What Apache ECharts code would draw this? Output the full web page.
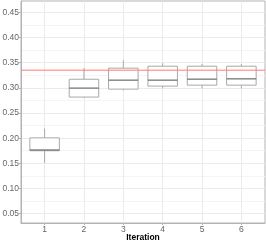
<!DOCTYPE html>
<html><head><meta charset="utf-8">
<script src="https://cdn.jsdelivr.net/npm/echarts@6/dist/echarts.min.js"></script>
<style>html,body{margin:0;padding:0;background:#fff}#c{width:266px;height:245px}</style>
</head><body><div id="c"></div>
<script>
const iterations = [1, 2, 3, 4, 5, 6];
const whiskerLow  = [0.151, 0.280, 0.295, 0.299, 0.299, 0.299];
const q1          = [0.1750, 0.2816, 0.2974, 0.3034, 0.3053, 0.3053];
const median      = [0.1765, 0.2994, 0.3152, 0.3152, 0.3172, 0.3178];
const q3          = [0.2006, 0.3170, 0.3390, 0.3429, 0.3429, 0.3429];
const whiskerHigh = [0.219, 0.339, 0.3547, 0.3488, 0.3474, 0.3474];
const refLine = 0.335;
const yTicks = [0.05, 0.10, 0.15, 0.20, 0.25, 0.30, 0.35, 0.40, 0.45];
const yMinor = [0.075, 0.125, 0.175, 0.225, 0.275, 0.325, 0.375, 0.425];
const xAxisTitle = 'Iteration';

const boxData = iterations.map((it, i) => [it, whiskerLow[i], q1[i], median[i], q3[i], whiskerHigh[i]]);

const font = "'Liberation Sans Narrow','Liberation Sans',Arial,sans-serif";
const boxColor = '#a8a8a8';
const medColor = '#6a6a6a';
const refColor = '#ff7a7a';
const xMin = 0.4, xMax = 6.6;
const yMin = 0.0315, yMax = 0.4724;

const chart = echarts.init(document.getElementById('c'), null, {renderer: 'canvas'});
chart.setOption({
  animation: false,
  backgroundColor: '#fff',
  grid: {left: 21, right: 1, top: 1, bottom: 22, show: true, borderColor: '#b3b3b3', borderWidth: 1,
         backgroundColor: 'transparent', containLabel: false, outerBoundsMode: 'none'},
  xAxis: {
    type: 'value', min: xMin, max: xMax,
    name: xAxisTitle, nameLocation: 'middle', nameGap: 10, nameMoveOverlap: false,
    nameTextStyle: {fontFamily: font, fontWeight: 'bold', fontSize: 8.5, color: '#000'},
    axisLine: {show: true, onZero: false, lineStyle: {color: '#b3b3b3', width: 1}},
    axisTick: {show: true, length: 2, customValues: iterations, lineStyle: {color: '#b3b3b3'}},
    axisLabel: {customValues: iterations, margin: 2, fontFamily: font, fontSize: 8.5, color: '#666'},
    splitLine: {show: true, lineStyle: {color: '#ebebeb', width: 1}}
  },
  yAxis: [{
    type: 'value', min: yMin, max: yMax,
    axisLine: {show: true, onZero: false, lineStyle: {color: '#b3b3b3', width: 1}},
    axisTick: {show: true, length: 2, customValues: yTicks, lineStyle: {color: '#b3b3b3'}},
    axisLabel: {customValues: yTicks, formatter: v => v.toFixed(2), margin: 2, fontFamily: font, fontSize: 8.5, color: '#666'},
    splitLine: {show: true, lineStyle: {color: '#ebebeb', width: 1}}
  }, {
    type: 'value', min: yMin, max: yMax, position: 'left',
    axisLine: {show: false, onZero: false},
    axisTick: {show: false, customValues: yMinor},
    axisLabel: {show: false, customValues: yMinor},
    splitLine: {show: true, lineStyle: {color: '#f4f4f4', width: 1}}
  }],
  series: [{
    type: 'custom',
    xAxisIndex: 0, yAxisIndex: 0,
    data: boxData,
    encode: {x: 0, y: [1, 2, 3, 4, 5]},
    z: 3,
    renderItem: function (params, api) {
      const x = api.value(0);
      const lo = api.coord([x, api.value(1)]);
      const a = api.coord([x, api.value(2)]);
      const m = api.coord([x, api.value(3)]);
      const b = api.coord([x, api.value(4)]);
      const hi = api.coord([x, api.value(5)]);
      const w = api.size([0.75, 0])[0];
      const cx = lo[0];
      const left = cx - w / 2;
      return {type: 'group', children: [
        {type: 'line', shape: {x1: cx, y1: hi[1], x2: cx, y2: b[1]}, style: {stroke: boxColor, lineWidth: 1}},
        {type: 'line', shape: {x1: cx, y1: a[1], x2: cx, y2: lo[1]}, style: {stroke: boxColor, lineWidth: 1}},
        {type: 'rect', shape: {x: left, y: b[1], width: w, height: a[1] - b[1]}, style: {fill: '#fff', stroke: boxColor, lineWidth: 1}},
        {type: 'line', shape: {x1: left, y1: m[1], x2: left + w, y2: m[1]}, style: {stroke: medColor, lineWidth: 1.2}}
      ]};
    }
  }, {
    type: 'line',
    xAxisIndex: 0, yAxisIndex: 0,
    data: [[xMin, refLine], [xMax, refLine]],
    z: 5,
    symbol: 'none',
    silent: true,
    lineStyle: {color: refColor, width: 1},
    itemStyle: {color: refColor}
  }]
});
</script></body></html>
